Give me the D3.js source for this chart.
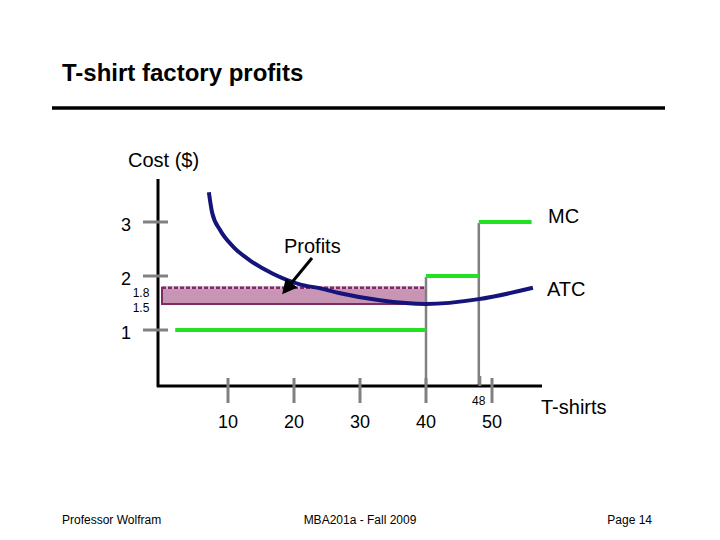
<!DOCTYPE html>
<html>
<head>
<meta charset="utf-8">
<script src="https://cdn.jsdelivr.net/npm/d3@7"></script>
<style>
  body { margin: 0; background: #fff; }
  svg { display: block; font-family: "Liberation Sans", Arial, sans-serif; }
</style>
</head>
<body>
<div id="chart"></div>
<script>
// Données
const yTicks = [1, 2, 3];
const xTicks = [10, 20, 30, 40, 50];
const mcSteps = [[2, 40, 1], [40, 48, 2], [48, 56, 3]]; // [début, fin, coût]
const atcQ = [7.1, 7.6, 8.8, 10.8, 13.3, 16.8, 21, 24, 27, 33, 40, 48, 56.2];
const atcC = [3.57, 3.19, 2.87, 2.56, 2.31, 2.06, 1.86, 1.79, 1.70, 1.57, 1.5, 1.59, 1.8];
const profitQ = 40;
const price = 1.8;
const atcAtQ = 1.5;
const marker = 48;

const width = 720;
const height = 540;

// Échelles
const x = d3.scaleLinear([0, 60], [162, 558]);
const y = d3.scaleLinear([0, 4], [385, 169]);

const svg = d3.create("svg")
    .attr("viewBox", [0, 0, width, height])
    .attr("width", width)
    .attr("height", height);

// Titre et règle
svg.append("text")
    .attr("x", 62).attr("y", 81)
    .attr("font-size", 24).attr("font-weight", "bold")
    .text("T-shirt factory profits");
svg.append("line")
    .attr("x1", 52).attr("x2", 665).attr("y1", 108).attr("y2", 108)
    .attr("stroke", "#000").attr("stroke-width", 3.5);

// Zone de profit
const pg = svg.append("g");
pg.append("rect")
    .attr("x", x(0)).attr("y", y(price))
    .attr("width", x(profitQ) - x(0))
    .attr("height", y(atcAtQ) - y(price))
    .attr("fill", "#c995b5")
    .attr("stroke", "#7b2d64").attr("stroke-width", 2);
pg.append("line")
    .attr("x1", x(0)).attr("x2", x(profitQ))
    .attr("y1", y(price)).attr("y2", y(price))
    .attr("stroke", "#e8b0d4").attr("stroke-width", 2.5);
pg.append("line")
    .attr("x1", x(0)).attr("x2", x(profitQ))
    .attr("y1", y(price)).attr("y2", y(price))
    .attr("stroke", "#7b2d64").attr("stroke-width", 2.5)
    .attr("stroke-dasharray", "4,2");

// Lignes verticales grises (MC)
svg.append("g")
    .attr("stroke", "#808080").attr("stroke-width", 2.5)
    .selectAll("line")
    .data(mcSteps.slice(1))
    .join("line")
      .attr("x1", d => x(d[0])).attr("x2", d => x(d[0]))
      .attr("y1", d => y(d[2])).attr("y2", y(0));

// Axes
svg.append("line")
    .attr("x1", 158).attr("x2", 158).attr("y1", 179).attr("y2", 387)
    .attr("stroke", "#000").attr("stroke-width", 3);
svg.append("line")
    .attr("x1", 157).attr("x2", 542).attr("y1", 386).attr("y2", 386)
    .attr("stroke", "#000").attr("stroke-width", 3);

// Graduations Y
svg.append("g")
    .attr("stroke", "#808080").attr("stroke-width", 3)
    .selectAll("line")
    .data(yTicks)
    .join("line")
      .attr("x1", 143).attr("x2", 168)
      .attr("y1", d => y(d) - 1).attr("y2", d => y(d) - 1);
svg.append("g")
    .attr("font-size", 18).attr("text-anchor", "middle")
    .selectAll("text")
    .data(yTicks)
    .join("text")
      .attr("x", 126).attr("y", d => y(d) + 8)
      .text(d => d);

// Graduations X
svg.append("g")
    .attr("stroke", "#808080").attr("stroke-width", 3)
    .selectAll("line")
    .data(xTicks)
    .join("line")
      .attr("x1", d => x(d)).attr("x2", d => x(d))
      .attr("y1", 378).attr("y2", 403);
svg.append("line")
    .attr("x1", x(marker) + 1).attr("x2", x(marker) + 1)
    .attr("y1", 376).attr("y2", 386)
    .attr("stroke", "#808080").attr("stroke-width", 3);
svg.append("g")
    .attr("font-size", 18).attr("text-anchor", "middle")
    .selectAll("text")
    .data(xTicks)
    .join("text")
      .attr("x", d => x(d)).attr("y", 428)
      .text(d => d);
svg.append("text")
    .attr("x", x(marker)).attr("y", 405)
    .attr("font-size", 12).attr("text-anchor", "middle")
    .text(marker);

// Petites étiquettes 1.8 / 1.5
svg.append("text").attr("x", 141).attr("y", 297)
    .attr("font-size", 12).attr("text-anchor", "middle").text(price);
svg.append("text").attr("x", 141).attr("y", 312)
    .attr("font-size", 12).attr("text-anchor", "middle").text(atcAtQ);

// MC (coût marginal)
svg.append("g")
    .attr("stroke", "#22e022").attr("stroke-width", 4)
    .selectAll("line")
    .data(mcSteps)
    .join("line")
      .attr("x1", d => x(d[0])).attr("x2", d => x(d[1]))
      .attr("y1", d => y(d[2]) - 1).attr("y2", d => y(d[2]) - 1);

// ATC (coût moyen)
const line = d3.line()
    .x(d => x(d[0]))
    .y(d => y(d[1]))
    .curve(d3.curveMonotoneX);
svg.append("path")
    .attr("d", line(d3.zip(atcQ, atcC)))
    .attr("fill", "none")
    .attr("stroke", "#14147a").attr("stroke-width", 4);

// Flèche "Profits"
svg.append("defs").append("marker")
    .attr("id", "arrow")
    .attr("viewBox", "0 0 10 10")
    .attr("refX", 8).attr("refY", 5)
    .attr("markerWidth", 5).attr("markerHeight", 5)
    .attr("orient", "auto")
  .append("path")
    .attr("d", "M0,0L10,5L0,10z")
    .attr("fill", "#000");
svg.append("line")
    .attr("x1", 312).attr("y1", 258).attr("x2", 284).attr("y2", 292)
    .attr("stroke", "#000").attr("stroke-width", 3)
    .attr("marker-end", "url(#arrow)");

// Étiquettes
const labels = [
  ["Cost ($)", 128, 167, 20],
  ["Profits", 284, 253, 20],
  ["MC", 548, 223, 20],
  ["ATC", 547, 296, 20],
  ["T-shirts", 541, 414, 20]
];
svg.append("g")
    .selectAll("text")
    .data(labels)
    .join("text")
      .attr("x", d => d[1]).attr("y", d => d[2])
      .attr("font-size", d => d[3])
      .text(d => d[0]);

// Pied de page
const footer = [
  ["Professor Wolfram", 62, "start"],
  ["MBA201a - Fall 2009", 360, "middle"],
  ["Page 14", 652, "end"]
];
svg.append("g")
    .attr("font-size", 12)
    .selectAll("text")
    .data(footer)
    .join("text")
      .attr("x", d => d[1]).attr("y", 524)
      .attr("text-anchor", d => d[2])
      .text(d => d[0]);

document.getElementById("chart").appendChild(svg.node());
</script>
</body>
</html>
